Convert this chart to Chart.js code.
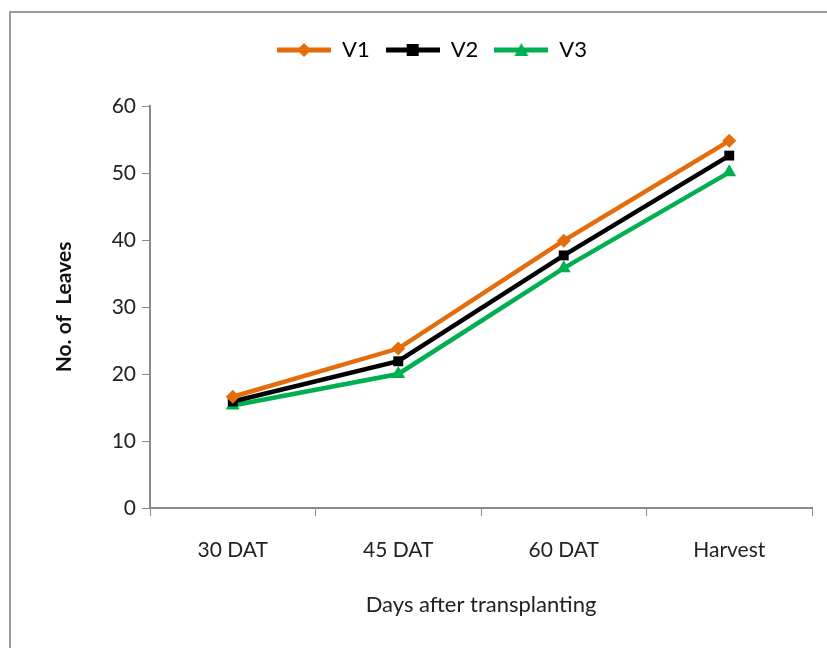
<!DOCTYPE html>
<html>
<head>
<meta charset="utf-8">
<script src="https://cdn.jsdelivr.net/npm/chart.js@4.4.1/dist/chart.umd.min.js"></script>
<style>
  html, body { margin: 0; padding: 0; background: #fff; }
  #wrap { position: relative; width: 827px; height: 648px; }
  #frame { position: absolute; left: 9px; top: 11px; right: 0; bottom: 0;
           border-left: 2px solid #9a9a9a; border-top: 2px solid #9a9a9a; }
  canvas { position: absolute; left: 0; top: 0; }
</style>
</head>
<body>
<div id="wrap">
  <div id="frame"></div>
  <canvas id="c" width="827" height="648"></canvas>
</div>
<script>
// Stages of crop growth
const categories = ['30 DAT', '45 DAT', '60 DAT', 'Harvest'];
// Number of leaves per variety
const v1 = [16.6, 23.8, 39.9, 54.8];
const v2 = [15.9, 21.9, 37.7, 52.6];
const v3 = [15.3, 20.0, 35.8, 50.1];
const yTicks = [0, 10, 20, 30, 40, 50, 60];

const FONT = "Lato, 'Liberation Sans', sans-serif";

// Legend key: short line segment with the series marker in the middle
function legendKey(color, style) {
  const c = document.createElement('canvas');
  c.width = 54; c.height = 16;
  const g = c.getContext('2d');
  g.strokeStyle = color; g.lineWidth = 5;
  g.beginPath(); g.moveTo(0, 8); g.lineTo(54, 8); g.stroke();
  g.fillStyle = color;
  g.beginPath();
  if (style === 'rectRot') {
    g.moveTo(27, 1); g.lineTo(34, 8); g.lineTo(27, 15); g.lineTo(20, 8);
  } else if (style === 'rect') {
    g.rect(21, 2, 12, 12);
  } else {
    g.moveTo(27, 1); g.lineTo(34, 14); g.lineTo(20, 14);
  }
  g.closePath(); g.fill();
  return c;
}

const series = [
  { label: 'V1', data: v1, color: '#E46C0A', point: 'rectRot', radius: 7 },
  { label: 'V2', data: v2, color: '#000000', point: 'rect', radius: 7 },
  { label: 'V3', data: v3, color: '#00B050', point: 'triangle', radius: 8 }
];

// Extra room below the legend so the plot starts lower
const legendGap = {
  id: 'legendGap',
  beforeInit(chart) {
    const fit = chart.legend.fit;
    chart.legend.fit = function () { fit.call(this); this.height += 35; };
  }
};

new Chart(document.getElementById('c'), {
  type: 'line',
  plugins: [legendGap],
  data: {
    labels: categories,
    datasets: series.map(s => ({
      label: s.label,
      data: s.data,
      borderColor: s.color,
      backgroundColor: s.color,
      borderWidth: 4.5,
      pointStyle: s.point,
      pointRadius: s.radius,
      pointBorderWidth: 0,
      tension: 0,
      legendKey: legendKey(s.color, s.point)
    }))
  },
  options: {
    responsive: false,
    animation: false,
    layout: { padding: { top: 23, left: 52, right: 15, bottom: 30 } },
    plugins: {
      tooltip: { enabled: false },
      legend: {
        position: 'top',
        labels: {
          usePointStyle: true,
          pointStyleWidth: 54,
          boxHeight: 16,
          font: { family: FONT, size: 22 },
          color: '#222',
          padding: 16,
          generateLabels(chart) {
            return chart.data.datasets.map((d, i) => ({
              text: d.label,
              pointStyle: d.legendKey,
              fillStyle: d.borderColor,
              strokeStyle: d.borderColor,
              lineWidth: 0,
              hidden: false,
              datasetIndex: i
            }));
          }
        }
      }
    },
    scales: {
      x: {
        type: 'category',
        offset: true,
        grid: { offset: true, drawOnChartArea: false, drawTicks: true, tickLength: 8, color: '#8a8a8a' },
        border: { color: '#8a8a8a', width: 2 },
        ticks: { font: { family: FONT, size: 21 }, color: '#222', padding: 22 },
        title: { display: true, text: 'Days after transplanting', font: { family: FONT, size: 22 }, color: '#222', padding: 0 },
        afterFit(scale) { scale.height = 648 - 508 - 30; }
      },
      y: {
        min: 0, max: 60,
        afterBuildTicks(scale) { scale.ticks = yTicks.map(v => ({ value: v })); },
        grid: { drawOnChartArea: false, drawTicks: true, tickLength: 8, color: '#8a8a8a' },
        border: { color: '#8a8a8a', width: 2 },
        ticks: { font: { family: FONT, size: 21 }, color: '#222', padding: 6 },
        title: { display: true, text: 'No. of  Leaves', font: { family: FONT, size: 21, weight: 'bold' }, color: '#111', padding: 0 },
        afterFit(scale) { scale.width = 150 - 52; }
      }
    }
  }
});
</script>
</body>
</html>
